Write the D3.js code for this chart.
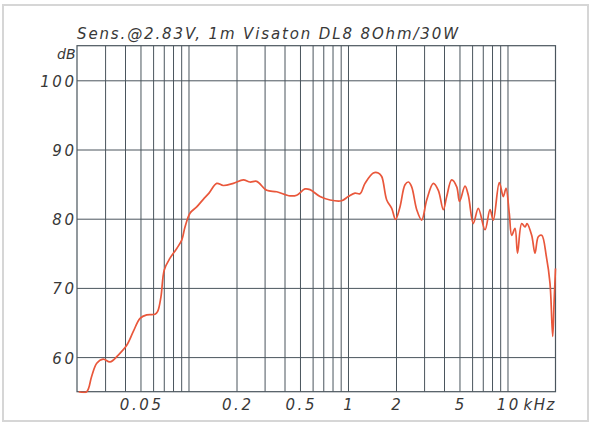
<!DOCTYPE html>
<html><head><meta charset="utf-8">
<script src="https://cdn.jsdelivr.net/npm/d3@7"></script>
<style>
html,body{margin:0;padding:0;background:#fff;}
svg{display:block;}
text{font-family:"DejaVu Sans",sans-serif;font-style:italic;fill:#383838;}
</style></head><body>
<svg id="c" width="591" height="423"></svg>
<script>
const freqKHz = [0.0205,0.023,0.0247,0.0266,0.0292,0.0322,0.0363,0.041,0.0451,0.0497,0.0547,0.0617,0.0641,0.0672,0.0705,0.0766,0.0844,0.0907,0.0951,0.1022,0.1126,0.1238,0.1345,0.1503,0.1653,0.191,0.2206,0.243,0.2677,0.3094,0.3573,0.433,0.477,0.5378,0.578,0.6676,0.7716,0.9132,1.004,1.107,1.189,1.278,1.441,1.549,1.627,1.749,1.88,1.986,2.118,2.278,2.396,2.508,2.698,2.898,3.116,3.428,3.684,3.96,4.158,4.47,4.806,5.004,5.416,5.68,6.104,6.562,7.228,7.77,8.148,8.886,9.416,9.79,10.26,10.63,11.15,11.56,12.28,12.88,13.26,14.18,14.88,15.6,16.39,17.51,18.47,19.21,19.6,20.0];
const splDb = [55.0,55.0,57.2,59.1,59.7,59.3,60.3,61.7,63.7,65.6,66.1,66.2,66.6,68.7,72.6,74.3,75.7,76.9,78.8,80.8,81.7,82.8,83.7,85.1,84.8,85.1,85.6,85.3,85.4,84.1,83.9,83.3,83.4,84.3,84.2,83.2,82.7,82.6,83.2,83.7,83.6,85.1,86.6,86.6,86.1,82.7,81.5,79.9,81.7,84.9,85.3,84.6,81.3,79.8,82.7,85.1,84.1,81.3,83.2,85.6,84.6,82.5,84.7,83.4,79.3,81.5,78.4,81.3,79.8,85.2,83.2,84.4,80.8,77.6,78.6,75.0,79.3,78.8,79.3,77.6,75.0,77.4,77.6,74.6,70.7,63.0,68.0,72.8];
const yTicks = [60,70,80,90,100];
const xGrid = [0.03,0.04,0.05,0.06,0.07,0.08,0.09,0.1,0.2,0.3,0.4,0.5,0.6,0.7,0.8,0.9,1,2,3,4,5,6,7,8,9,10];
const xLabelVals = [0.05,0.2,0.5,1,2,5,10];
const xLabelText = ["0.05","0.2","0.5","1","2","5","10"];
const titleText = "Sens.@2.83V, 1m Visaton DL8 8Ohm/30W";
const yUnit = "dB";
const xUnit = "kHz";

const L = 77, R = 555.5, T = 45.7, B = 391.7;
const x = d3.scaleLog().domain([0.02, 20]).range([L, R]);
const y = d3.scaleLinear().domain([55, 105]).range([B, T]);
const svg = d3.select("#c");
const gridCol = "#4a555d";

// outer frame
svg.append("rect").attr("x",3).attr("y",5).attr("width",585).attr("height",416)
  .attr("fill","none").attr("stroke","#d6d6d6").attr("stroke-width",2);

// vertical grid via axis
const gx = svg.append("g").attr("transform",`translate(0,${B})`)
  .call(d3.axisBottom(x).tickValues(xGrid).tickSize(-(B-T)).tickFormat(""));
gx.select(".domain").remove();
gx.selectAll(".tick line").attr("stroke",gridCol).attr("stroke-width",1);

// horizontal grid via axis
const gy = svg.append("g").attr("transform",`translate(${L},0)`)
  .call(d3.axisLeft(y).tickValues(yTicks).tickSize(-(R-L)).tickFormat(""));
gy.select(".domain").remove();
gy.selectAll(".tick line").attr("stroke",gridCol).attr("stroke-width",1);

// border
svg.append("rect").attr("x",L).attr("y",T).attr("width",R-L).attr("height",B-T)
  .attr("fill","none").attr("stroke",gridCol).attr("stroke-width",1.2);

// clip
svg.append("clipPath").attr("id","pc").append("rect")
  .attr("x",L).attr("y",T-20).attr("width",R-L+1.5).attr("height",B-T+21.5);

const line = d3.line().x((d,i)=>x(freqKHz[i])).y((d,i)=>y(splDb[i]))
  .curve(d3.curveCatmullRom.alpha(0.5));
svg.append("path").datum(splDb).attr("d",line).attr("clip-path","url(#pc)")
  .attr("fill","none").attr("stroke","#e9573b").attr("stroke-width",1.7)
  .attr("stroke-linejoin","round");

// y labels
const ls = 2.6;
svg.selectAll(".yl").data(yTicks).enter().append("text")
  .attr("x",L-3+ls).attr("y",d=>y(d)+6.5).attr("text-anchor","end")
  .style("font-size","15px").style("letter-spacing",ls+"px").text(d=>d);
svg.append("text").attr("x",L-1).attr("y",59).attr("text-anchor","end")
  .style("font-size","14px").style("letter-spacing","0.3px").text(yUnit);

// x labels
svg.selectAll(".xl").data(xLabelVals).enter().append("text")
  .attr("x",d=>x(d)+ls/2).attr("y",410).attr("text-anchor","middle")
  .style("font-size","15px").style("letter-spacing",ls+"px").text((d,i)=>xLabelText[i]);
svg.append("text").attr("x",x(10)+16).attr("y",410).attr("text-anchor","start")
  .style("font-size","15px").style("letter-spacing","1.5px").text(xUnit);

// title
svg.append("text").attr("x",L).attr("y",38.5).attr("textLength",381).attr("lengthAdjust","spacing")
  .style("font-size","15px").text(titleText);
</script>
</body></html>
